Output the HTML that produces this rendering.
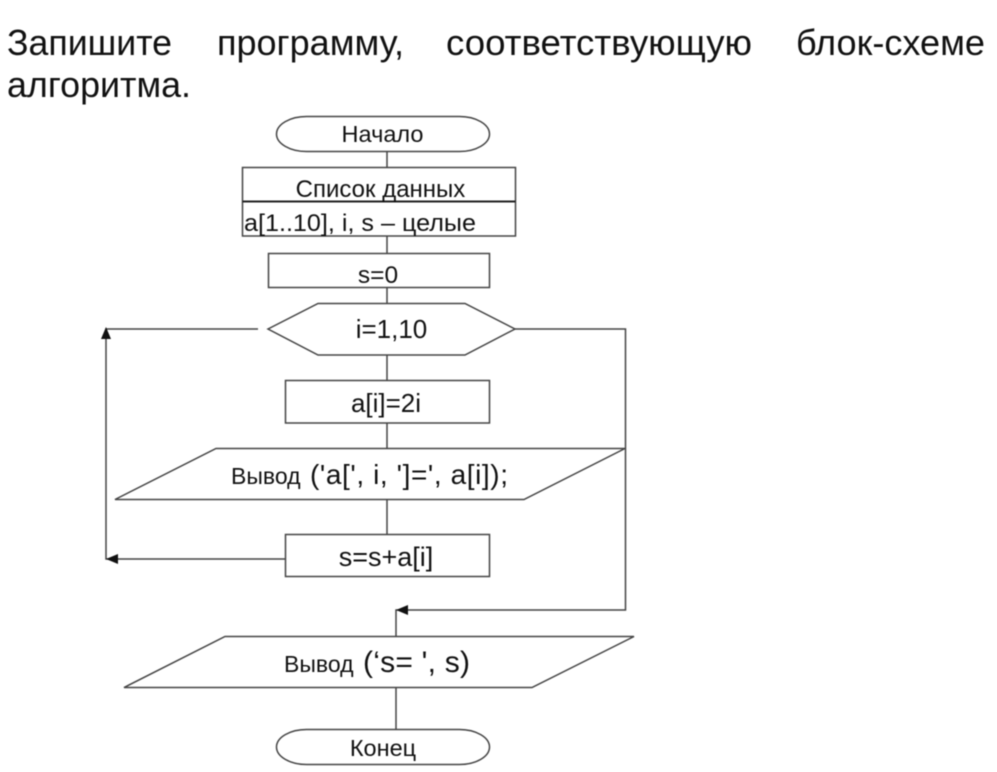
<!DOCTYPE html>
<html><head><meta charset="utf-8"><style>
html,body{margin:0;padding:0;background:#fff}
svg{display:block;filter:blur(.4px)}
text{font-family:"Liberation Sans",sans-serif;fill:#111}
.s{fill:#fff;stroke:#444;stroke-width:1.5}
.l{fill:none;stroke:#444;stroke-width:1.5}
</style></head><body>
<svg width="997" height="772" viewBox="0 0 997 772" xmlns="http://www.w3.org/2000/svg">
<g font-size="36">
<text x="7" y="55" textLength="165" lengthAdjust="spacingAndGlyphs">Запишите</text>
<text x="217" y="55" textLength="187" lengthAdjust="spacingAndGlyphs">программу,</text>
<text x="446" y="55" textLength="306" lengthAdjust="spacingAndGlyphs">соответствующую</text>
<text x="796" y="55" textLength="189" lengthAdjust="spacingAndGlyphs">блок-схеме</text>
<text x="7" y="97" textLength="184" lengthAdjust="spacingAndGlyphs">алгоритма.</text>
</g>
<path class="l" d="M387 151V167M387 236V253M387 287V303M387 355V380M387 423V448M387 499V534"/>
<path class="l" d="M258 329H106V559H285"/>
<path class="l" d="M515 329H625.500V610H396V636M396 687V729"/>
<rect class="s" x="276.500" y="116.500" width="213" height="35" rx="30" ry="17.500"/>
<rect class="s" x="242.500" y="167.500" width="273" height="68.500"/>
<path class="l" style="stroke-width:2;stroke:#222" d="M242.500 201.500H515.500"/>
<rect class="s" x="268.500" y="253.500" width="221" height="34"/>
<path class="s" d="M268 329L318 303.500H465L515 329L465 355H318Z"/>
<rect class="s" x="285.500" y="380.500" width="204" height="42.500"/>
<path class="s" d="M216 448.500H625L524 499.500H115Z"/>
<rect class="s" x="285.500" y="534.500" width="204" height="42"/>
<path class="s" d="M225 636.500H634L532 687.500H124Z"/>
<rect class="s" x="276.500" y="729.500" width="213" height="35" rx="30" ry="17.500"/>
<path d="M106 327L101 339H111Z" fill="#111"/>
<path d="M106 559L118 554V564Z" fill="#111"/>
<path d="M396 610L408 605V615Z" fill="#111"/>
<text x="382.500" y="142" font-size="23.500" text-anchor="middle">Начало</text>
<text x="380.500" y="197" font-size="24" text-anchor="middle">Список данных</text>
<text x="244" y="231" font-size="24" textLength="232" lengthAdjust="spacingAndGlyphs">a[1..10], i, s – целые</text>
<text x="378" y="283" font-size="24.500" text-anchor="middle">s=0</text>
<text x="391.500" y="338" font-size="26" text-anchor="middle">i=1,10</text>
<text x="386" y="412" font-size="26" text-anchor="middle">a[i]=2i</text>
<text x="231" y="484" font-size="23">Вывод</text>
<text x="310" y="484" font-size="28" textLength="198" lengthAdjust="spacing">('a[', i, ']=', a[i]);</text>
<text x="386" y="566" font-size="27" text-anchor="middle">s=s+a[i]</text>
<text x="284" y="672" font-size="23">Вывод</text>
<text x="363" y="672" font-size="30" textLength="107" lengthAdjust="spacing">(‘s= ', s)</text>
<text x="383" y="756" font-size="23.500" text-anchor="middle">Конец</text>
</svg>
</body></html>
